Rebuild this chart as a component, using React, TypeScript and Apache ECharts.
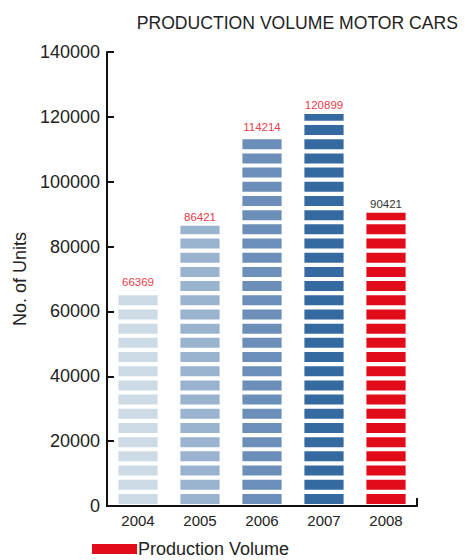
import React, { useEffect, useRef } from "react";
import * as echarts from "echarts";

const years = ["2004", "2005", "2006", "2007", "2008"];
const volumes = [66369, 86421, 114214, 120899, 90421];
const barColors = ["#cddbe7", "#9ab3cf", "#6b8fb8", "#346aa0", "#e20b19"];
const labelColors = ["#e8404a", "#e8404a", "#e8404a", "#e8404a", "#333333"];
const yMax = 140000;
const yStep = 20000;

export default function App() {
  const ref = useRef<HTMLDivElement>(null);
  useEffect(() => {
    if (!ref.current) return;
    const chart = echarts.init(ref.current, null, { renderer: "svg" });
    const font = "'Liberation Sans', Arial, sans-serif";
    chart.setOption({
      animation: false,
      textStyle: { fontFamily: font },
      title: {
        text: "PRODUCTION VOLUME MOTOR CARS",
        right: 2,
        top: 9,
        textStyle: { fontSize: 17.6, fontWeight: "normal", color: "#222", fontFamily: font },
      },
      legend: {
        data: ["Production Volume"],
        left: 87,
        top: 535,
        icon: "rect",
        itemWidth: 45,
        itemHeight: 10,
        itemGap: 10,
        textStyle: { fontSize: 18, color: "#222", fontFamily: font, padding: [0, 0, 0, -4] },
      },
      grid: { left: 107, right: 48, top: 52, bottom: 54 },
      xAxis: {
        type: "category",
        data: years,
        axisLine: { lineStyle: { color: "#111", width: 2 } },
        axisTick: { show: false },
        axisLabel: { fontSize: 15, color: "#222", margin: 7, fontFamily: font },
      },
      yAxis: {
        type: "value",
        min: 0,
        max: yMax,
        interval: yStep,
        name: "No. of Units",
        nameLocation: "middle",
        nameGap: 74,
        nameTextStyle: { fontSize: 18, color: "#222", fontFamily: font },
        axisLine: { show: true, lineStyle: { color: "#111", width: 2 } },
        axisTick: { show: true, inside: true, length: 7, lineStyle: { color: "#111", width: 2 } },
        axisLabel: {
          fontSize: 18,
          color: "#222",
          margin: 7,
          fontFamily: font,
          formatter: (v: number) => String(v),
        },
        splitLine: { show: false },
      },
      graphic: [
        {
          type: "line",
          shape: { x1: 417, y1: 498, x2: 417, y2: 506 },
          style: { stroke: "#111", lineWidth: 2 },
        },
      ],
      series: [
        {
          name: "Production Volume",
          type: "pictorialBar",
          symbol: "rect",
          symbolSize: [39, 10],
          symbolRepeat: 32,
          symbolMargin: "2.1!",
          symbolClip: true,
          symbolBoundingData: yMax,
          symbolPosition: "start",
          itemStyle: { color: "#e20b19" },
          data: volumes.map((v, i) => ({ value: v, itemStyle: { color: barColors[i] } })),
          z: 2,
        },
        {
          name: "labels",
          type: "bar",
          barWidth: 39,
          itemStyle: { color: "rgba(0,0,0,0)" },
          label: {
            show: true,
            position: "top",
            distance: 3,
            fontSize: 11.5,
            fontFamily: font,
          },
          data: volumes.map((v, i) => ({
            value: v,
            label: { color: labelColors[i] },
          })),
          z: 3,
          silent: true,
        },
      ],
    });
    return () => chart.dispose();
  }, []);
  return (
    <div
      ref={ref}
      style={{ position: "absolute", left: 0, top: 0, width: 465, height: 560 }}
    />
  );
}
